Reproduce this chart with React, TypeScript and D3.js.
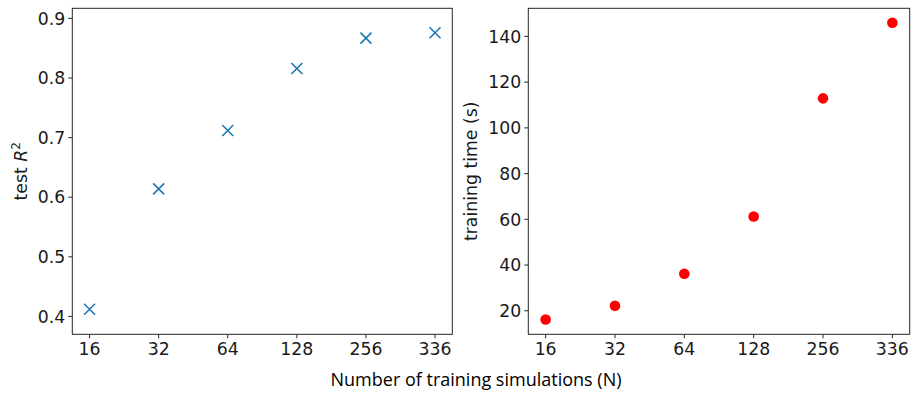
import React from 'react'
import { scalePoint, scaleLinear } from 'd3'

const sims = ['16', '32', '64', '128', '256', '336']
const testR2 = [0.412, 0.614, 0.712, 0.816, 0.867, 0.876]
const trainTime = [16.2, 22.2, 36.2, 61.2, 112.9, 146.0]
const r2Ticks = [0.4, 0.5, 0.6, 0.7, 0.8, 0.9]
const timeTicks = [20, 40, 60, 80, 100, 120, 140]

const W = 918
const H = 399
const top = 8.3
const bottom = 334.3
const tickFont = 'DejaVu Sans'
const tickSize = 17.3

const Panel = ({ left, right, yScale, yTicks, fmt, children }) => {
    const x = scalePoint().domain(sims).range([left, right]).padding(0.25)
    return (
        <g>
            {yTicks.map(t => (
                <g key={t}>
                    <line x1={left - 4} x2={left} y1={yScale(t)} y2={yScale(t)} stroke="#262626" />
                    <text x={left - 7} y={yScale(t)} dy="0.36em" textAnchor="end"
                        fontFamily={tickFont} fontSize={tickSize} fill="#1a1a1a">{fmt(t)}</text>
                </g>
            ))}
            {sims.map(s => (
                <g key={s}>
                    <line x1={x(s)} x2={x(s)} y1={bottom} y2={bottom + 4} stroke="#262626" />
                    <text x={x(s)} y={355} textAnchor="middle"
                        fontFamily={tickFont} fontSize={tickSize} fill="#1a1a1a">{s}</text>
                </g>
            ))}
            {children(x)}
            <rect x={left} y={top} width={right - left} height={bottom - top}
                fill="none" stroke="#262626" strokeWidth={1} />
        </g>
    )
}

export default function App() {
    const yLeft = scaleLinear().domain([0.370, 0.917]).range([bottom, top])
    const yRight = scaleLinear().domain([9.7, 152.3]).range([bottom, top])
    const midY = (top + bottom) / 2

    return (
        <svg width={W} height={H} style={{ position: 'absolute', left: 0, top: 0, background: '#fff' }}>
            <rect width={W} height={H} fill="#fff" />
            <Panel left={72.3} right={452.3} yScale={yLeft} yTicks={r2Ticks} fmt={d => d.toFixed(1)}>
                {x => testR2.map((v, i) => {
                    const cx = x(sims[i])
                    const cy = yLeft(v)
                    const s = 5.5
                    return (
                        <path key={i} d={`M${cx - s},${cy - s}L${cx + s},${cy + s}M${cx - s},${cy + s}L${cx + s},${cy - s}`}
                            stroke="#1f77b4" strokeWidth={1.6} fill="none" />
                    )
                })}
            </Panel>
            <Panel left={528.3} right={909.7} yScale={yRight} yTicks={timeTicks} fmt={d => String(d)}>
                {x => trainTime.map((v, i) => (
                    <circle key={i} cx={x(sims[i])} cy={yRight(v)} r={5.3} fill="#ff0000" />
                ))}
            </Panel>

            <text transform={`translate(26.7,${midY}) rotate(-90)`} textAnchor="middle"
                fontFamily={tickFont} fontSize={tickSize} fill="#1a1a1a">
                test <tspan fontStyle="italic">R</tspan><tspan fontSize={12} dy={-7}>2</tspan>
            </text>
            <text transform={`translate(477,${midY}) rotate(-90)`} textAnchor="middle"
                fontFamily={tickFont} fontSize={tickSize} fill="#1a1a1a">training time (s)</text>

            <text x={476} y={386} textAnchor="middle" fontFamily="Open Sans" fontSize={18}
                textLength={291} lengthAdjust="spacingAndGlyphs" fill="#000">Number of training simulations (N)</text>
        </svg>
    )
}
